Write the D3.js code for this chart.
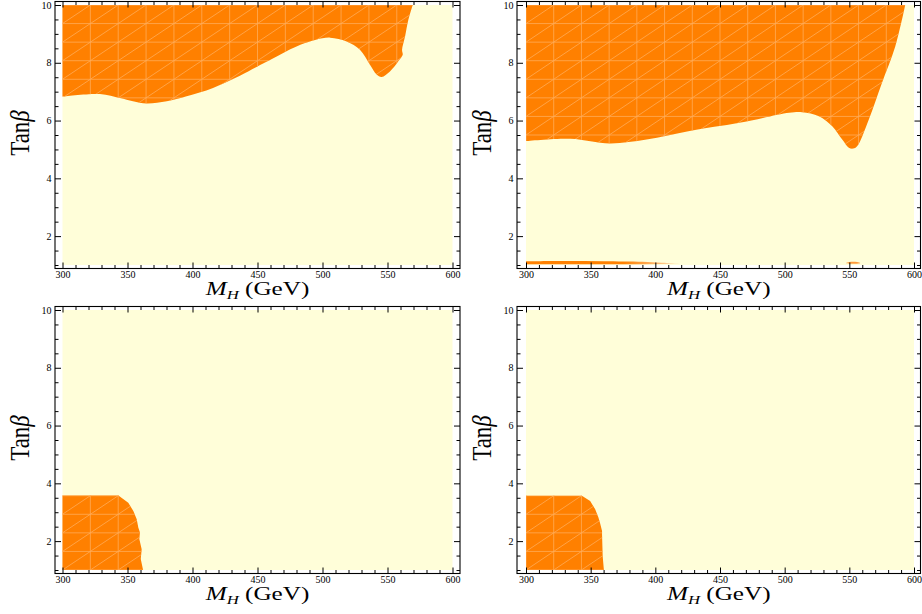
<!DOCTYPE html>
<html><head><meta charset="utf-8">
<script src="https://cdn.jsdelivr.net/npm/d3@7"></script>
<style>body{margin:0;background:#fff}svg{display:block}</style>
</head><body>
<svg id="c" width="922" height="614"></svg>
<script>
// ---------- data ----------
const xDomain = [300, 600];
const yDomain = [1, 10];
const xTicks = [300, 350, 400, 450, 500, 550, 600];
const yTicks = [2, 4, 6, 8, 10];
const xMinorTicks = [310,320,330,340,360,370,380,390,410,420,430,440,460,470,480,490,510,520,530,540,560,570,580,590];
const yMinorTicks = [1,1.5,2.5,3,3.5,4.5,5,5.5,6.5,7,7.5,8.5,9,9.5];

// panel 1 (top-left): boundary of excluded (orange) region, orange lies above it
const p1X = [300, 328.8, 344.2, 354.2, 364.8, 380.2, 395.5, 415.8, 436.5, 452, 467.3, 483, 495, 505.8, 518.6, 528.8, 536.5, 541.7, 545.5, 551.9, 559.6, 561.7, 561.2, 563.5, 566, 569.4];
const p1Y = [6.83, 6.92, 6.78, 6.67, 6.59, 6.67, 6.84, 7.13, 7.55, 7.92, 8.28, 8.62, 8.8, 8.87, 8.74, 8.45, 7.93, 7.59, 7.51, 7.70, 8.13, 8.28, 8.45, 8.91, 9.48, 10];
const p1Close = [[300, 10]];

// panel 2 (top-right)
const p2X = [300, 334.2, 365, 393.2, 426.5, 465, 503.5, 513.5, 526.5, 536.8, 544.5, 549.6, 553, 556, 565, 575.2, 585.5, 593.2];
const p2Y = [5.29, 5.37, 5.21, 5.34, 5.64, 5.92, 6.27, 6.29, 6.15, 5.80, 5.34, 5.06, 5.03, 5.11, 6.03, 7.30, 8.56, 10];
const p2Close = [[300, 10]];
// thin sliver near Tanβ = 1
const sliverX   = [300, 330, 360, 390, 405, 418];
const sliverTop = [1.13, 1.14, 1.13, 1.11, 1.08, 1.05];
const sliverBot = [1.03, 1.03, 1.03, 1.03, 1.035, 1.045];
// small blob near 553 GeV
const blobX = [547.5, 550, 553, 556, 558.5, 556, 553, 550];
const blobY = [1.07, 1.10, 1.11, 1.10, 1.07, 1.045, 1.04, 1.045];

// panel 3 (bottom-left)
const p3X = [300, 343, 350.6, 354.5, 357.1, 358.3, 359.6, 359.1, 360.9, 360.2, 361.7, 362];
const p3Y = [3.58, 3.58, 3.33, 3.04, 2.76, 2.47, 2.30, 2.07, 1.72, 1.38, 1.06, 1];
const p3Close = [[300, 1]];

// panel 4 (bottom-right)
const p4X = [300, 343.2, 349.6, 353.5, 356, 357.3, 358.8, 358.8, 359.3, 360.1, 360.3];
const p4Y = [3.57, 3.57, 3.39, 3.10, 2.82, 2.62, 2.35, 2.24, 1.48, 1.06, 1];
const p4Close = [[300, 1]];

// ---------- drawing ----------
const ORANGE = '#ff8000', YELLOW = '#fffed9', MESH = '#ffad5c';
const FONT = "'Liberation Serif','Times New Roman',serif";
const svg = d3.select('#c');
svg.append('rect').attr('width', 922).attr('height', 614).attr('fill', '#fff');
const defs = svg.append('defs');

const panels = [
  {regions: [{x: p1X, y: p1Y, close: p1Close, smooth: true}]},
  {regions: [{x: p2X, y: p2Y, close: p2Close, smooth: true}], sliver: true, blob: true},
  {regions: [{x: p3X, y: p3Y, close: p3Close, smooth: false}]},
  {regions: [{x: p4X, y: p4Y, close: p4Close, smooth: false}]}
];

panels.forEach((P, i) => {
  const col = i % 2, row = Math.floor(i / 2);
  const L = col ? {x300: 526, x600: 914, fl: 517, fr: 920.5} : {x300: 62.5, x600: 452.5, fl: 55, fr: 460};
  const oy = row * 305;
  const x = d3.scaleLinear().domain(xDomain).range([L.x300, L.x600]);
  const y = d3.scaleLinear().domain(yDomain).range([265 + oy, 5 + oy]);
  const ft = 1.5 + oy, fb = 268.5 + oy;
  const g = svg.append('g');

  g.append('rect').attr('x', x(xDomain[0])).attr('y', y(yDomain[1]))
    .attr('width', x(xDomain[1]) - x(xDomain[0])).attr('height', y(yDomain[0]) - y(yDomain[1]))
    .attr('fill', YELLOW);

  P.regions.forEach((r, k) => {
    const pts = r.x.map((v, j) => [x(v), y(r.y[j])]);
    const line = d3.line().curve(r.smooth ? d3.curveCatmullRom : d3.curveLinear);
    const d = line(pts) + r.close.map(c => 'L' + x(c[0]) + ',' + y(c[1])).join('') + 'Z';
    const id = 'clip' + i + '_' + k;
    defs.append('clipPath').attr('id', id).append('path').attr('d', d);
    g.append('path').attr('d', d).attr('fill', ORANGE);
    // triangulation mesh artefacts
    const mg = g.append('g').attr('clip-path', `url(#${id})`)
      .attr('stroke', MESH).attr('stroke-width', 0.9).attr('stroke-opacity', 0.85).attr('fill', 'none');
    const n = 14;
    const gx = d3.range(n + 1).map(t => xDomain[0] + t * (xDomain[1] - xDomain[0]) / n);
    const gy = d3.range(n + 1).map(t => yDomain[0] + t * (yDomain[1] - yDomain[0]) / n);
    gx.forEach(v => mg.append('line').attr('x1', x(v)).attr('x2', x(v)).attr('y1', y(yDomain[0])).attr('y2', y(yDomain[1])));
    gy.forEach(v => mg.append('line').attr('y1', y(v)).attr('y2', y(v)).attr('x1', x(xDomain[0])).attr('x2', x(xDomain[1])));
    for (let a = 0; a < n; a++) for (let b = 0; b < n; b++) {
      mg.append('line').attr('x1', x(gx[a])).attr('y1', y(gy[b])).attr('x2', x(gx[a + 1])).attr('y2', y(gy[b + 1]));
    }
  });

  if (P.sliver) {
    const gid = 'sgrad' + i;
    const lg = defs.append('linearGradient').attr('id', gid).attr('gradientUnits', 'userSpaceOnUse')
      .attr('x1', x(375)).attr('x2', x(420)).attr('y1', 0).attr('y2', 0);
    lg.append('stop').attr('offset', 0).attr('stop-color', ORANGE);
    lg.append('stop').attr('offset', 0.6).attr('stop-color', '#ffb870');
    lg.append('stop').attr('offset', 1).attr('stop-color', '#ffe8c0');
    const top = sliverX.map((v, j) => [x(v), y(sliverTop[j])]);
    const bot = sliverX.map((v, j) => [x(v), y(sliverBot[j])]).reverse();
    const d = d3.line().curve(d3.curveCatmullRom)(top) + d3.line().curve(d3.curveLinear)(bot).replace('M', 'L') + 'Z';
    g.append('path').attr('d', d).attr('fill', `url(#${gid})`);
  }
  if (P.blob) {
    const pts = blobX.map((v, j) => [x(v), y(blobY[j])]);
    g.append('path').attr('d', d3.line().curve(d3.curveCatmullRomClosed)(pts)).attr('fill', '#ff9a3a');
  }

  // axes
  const styleAxis = sel => {
    sel.select('.domain').remove();
    sel.selectAll('line').attr('stroke', '#000').attr('stroke-width', 1);
    sel.selectAll('text').attr('font-family', FONT).attr('font-size', 10).attr('fill', '#000');
  };
  g.append('g').attr('transform', `translate(0,${fb})`)
    .call(d3.axisBottom(x).tickValues(xTicks).tickSize(-6).tickPadding(2).tickFormat(d3.format('d'))).call(styleAxis);
  g.append('g').attr('transform', `translate(0,${fb})`)
    .call(d3.axisBottom(x).tickValues(xMinorTicks).tickSize(-3.5).tickFormat('')).call(styleAxis);
  g.append('g').attr('transform', `translate(0,${ft})`)
    .call(d3.axisTop(x).tickValues(xTicks).tickSize(-6).tickFormat('')).call(styleAxis);
  g.append('g').attr('transform', `translate(0,${ft})`)
    .call(d3.axisTop(x).tickValues(xMinorTicks).tickSize(-3.5).tickFormat('')).call(styleAxis);
  g.append('g').attr('transform', `translate(${L.fl},0)`)
    .call(d3.axisLeft(y).tickValues(yTicks).tickSize(-6).tickPadding(3.5).tickFormat(d3.format('d'))).call(styleAxis);
  g.append('g').attr('transform', `translate(${L.fl},0)`)
    .call(d3.axisLeft(y).tickValues(yMinorTicks).tickSize(-3.5).tickFormat('')).call(styleAxis);
  g.append('g').attr('transform', `translate(${L.fr},0)`)
    .call(d3.axisRight(y).tickValues(yTicks).tickSize(-6).tickFormat('')).call(styleAxis);
  g.append('g').attr('transform', `translate(${L.fr},0)`)
    .call(d3.axisRight(y).tickValues(yMinorTicks).tickSize(-3.5).tickFormat('')).call(styleAxis);

  g.append('rect').attr('x', L.fl).attr('y', ft).attr('width', L.fr - L.fl).attr('height', fb - ft)
    .attr('fill', 'none').attr('stroke', '#000').attr('stroke-width', 1.1);

  // x title
  const xt = g.append('g').attr('transform', `translate(${(L.fl + L.fr) / 2},${fb + 26}) scale(1.4,1)`)
    .append('text').attr('text-anchor', 'middle').attr('font-family', FONT).attr('font-size', 18).attr('fill', '#000');
  xt.append('tspan').attr('font-style', 'italic').text('M');
  xt.append('tspan').attr('font-style', 'italic').attr('font-size', 12).attr('dy', 4).text('H');
  xt.append('tspan').attr('dy', -4).text(' (GeV)');

  // y title
  const yt = g.append('g').attr('transform', `translate(${L.fl - 26},${(ft + fb) / 2 - 2}) scale(1.22,1) rotate(-90)`)
    .append('text').attr('text-anchor', 'middle').attr('font-family', FONT).attr('font-size', 23).attr('fill', '#000');
  yt.append('tspan').text('Tan');
  yt.append('tspan').attr('font-style', 'italic').text('β');
});
</script>
</body></html>
